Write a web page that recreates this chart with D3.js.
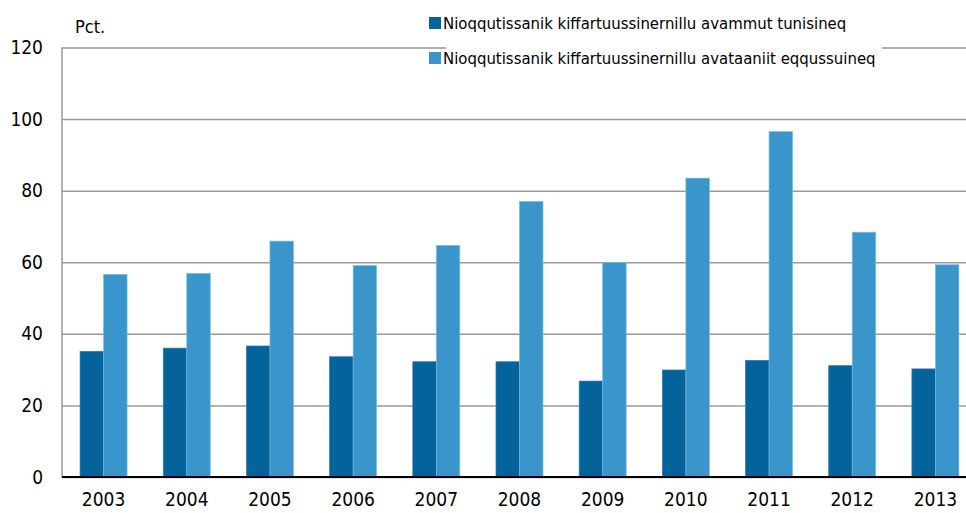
<!DOCTYPE html>
<html>
<head>
<meta charset="utf-8">
<script src="https://cdn.jsdelivr.net/npm/d3@7"></script>
<style>
  body { margin: 0; background: #fff; }
  svg { display: block; font-family: "DejaVu Sans Condensed", "Liberation Sans Narrow", sans-serif; }
</style>
</head>
<body>
<div id="chart"></div>
<script>
const years = ["2003", "2004", "2005", "2006", "2007", "2008", "2009", "2010", "2011", "2012", "2013"];
const tunisineq = [35.1, 36.0, 36.6, 33.6, 32.2, 32.2, 26.8, 29.9, 32.6, 31.1, 30.2];
const eqqussuineq = [56.6, 56.9, 65.9, 59.1, 64.7, 77.0, 59.9, 83.5, 96.5, 68.4, 59.3];
const seriesNames = [
  "Nioqqutissanik kiffartuussinernillu avammut tunisineq",
  "Nioqqutissanik kiffartuussinernillu avataaniit eqqussuineq"
];
const yTicks = [0, 20, 40, 60, 80, 100, 120];
const colors = ["#03639a", "#3a96ca"];

const W = 966, H = 513;
const m = { left: 62, right: 977, top: 47.5, bottom: 477 };

const svg = d3.select("#chart").append("svg")
  .attr("width", W).attr("height", H);

const x = d3.scaleBand().domain(years).range([m.left, m.right]).paddingInner(0).paddingOuter(0);
const xs = d3.scaleBand().domain([0, 1]).range([0, x.bandwidth()]).paddingInner(0).paddingOuter(0.77);
const y = d3.scaleLinear().domain([0, 120]).range([m.bottom, m.top]);

// Grid
svg.append("g")
  .attr("transform", `translate(${m.left},0)`)
  .call(d3.axisLeft(y).tickValues(yTicks).tickSize(-(W - m.left)).tickFormat(""))
  .call(g => g.select(".domain").remove())
  .selectAll("line")
  .attr("stroke", "#999")
  .attr("stroke-width", 1.5);

// Bars
const groups = svg.selectAll(".grp")
  .data(years.map((yr, i) => ({ yr, vals: [tunisineq[i], eqqussuineq[i]] })))
  .join("g")
  .attr("transform", d => `translate(${x(d.yr)},0)`);

groups.selectAll("rect")
  .data(d => d.vals.map((v, k) => ({ v, k })))
  .join("rect")
  .attr("x", d => xs(d.k))
  .attr("y", d => y(d.v))
  .attr("width", xs.bandwidth())
  .attr("height", d => y(0) - y(d.v))
  .attr("fill", d => colors[d.k])
  .attr("stroke", d => d.k === 0 ? "#2b78a8" : "#7dbde2")
  .attr("stroke-width", 0.7);

// Left axis line
svg.append("line")
  .attr("x1", m.left).attr("x2", m.left)
  .attr("y1", m.top).attr("y2", m.bottom)
  .attr("stroke", "#999").attr("stroke-width", 1.5);

// Bottom axis
svg.append("line")
  .attr("x1", m.left).attr("x2", W)
  .attr("y1", m.bottom).attr("y2", m.bottom)
  .attr("stroke", "#000").attr("stroke-width", 2);

// Y labels
svg.append("g")
  .attr("transform", `translate(${m.left},0)`)
  .call(d3.axisLeft(y).tickValues(yTicks).tickSize(0).tickPadding(19))
  .call(g => g.select(".domain").remove())
  .selectAll("text")
  .attr("fill", "#000")
  .attr("font-size", "19px")
  .attr("font-family", "DejaVu Sans Condensed, sans-serif");

// X labels
svg.append("g")
  .attr("transform", `translate(0,${m.bottom})`)
  .call(d3.axisBottom(x).tickSize(0).tickPadding(16))
  .call(g => g.select(".domain").remove())
  .selectAll("text")
  .attr("fill", "#000")
  .attr("font-size", "19px")
  .attr("font-family", "DejaVu Sans Condensed, sans-serif");

// Unit label
svg.append("text")
  .attr("x", 75).attr("y", 33)
  .attr("font-size", "18px")
  .text("Pct.");

// Legend
const legend = svg.append("g");
legend.append("rect")
  .attr("x", 446).attr("y", 4).attr("width", 436).attr("height", 70)
  .attr("fill", "#fff");
seriesNames.forEach((name, i) => {
  const ly = 17 + i * 35;
  legend.append("rect")
    .attr("x", 429).attr("y", ly).attr("width", 12).attr("height", 12)
    .attr("fill", colors[i]);
  legend.append("text")
    .attr("x", 443).attr("y", ly + 12)
    .attr("font-size", "16.6px")
    .text(name);
});
</script>
</body>
</html>
